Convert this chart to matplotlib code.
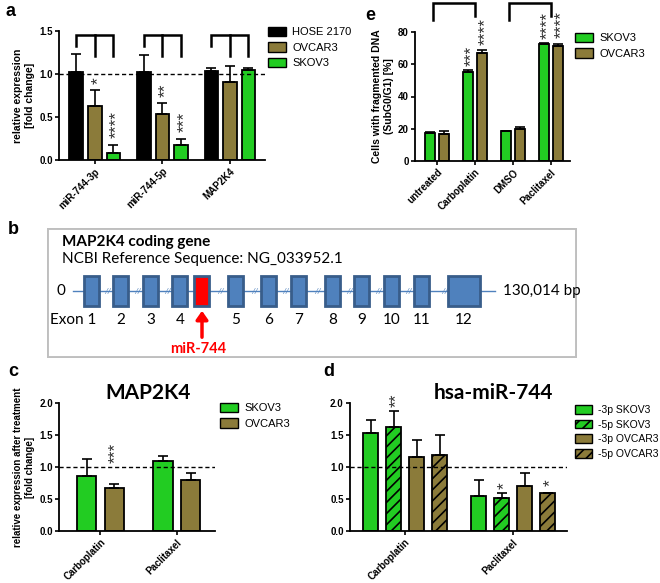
import matplotlib
matplotlib.use('Agg')
import matplotlib.pyplot as plt
from matplotlib.patches import Patch, Rectangle
import numpy as np

plt.rcParams['font.family'] = ['Liberation Sans', 'DejaVu Sans']
plt.rcParams['hatch.linewidth'] = 1.2
plt.rcParams['axes.linewidth'] = 1.3

W, H = 660, 583
GREEN = '#22cc22'
OLIVE = '#8b7b3a'
BLACK = '#000000'
HATCH = '///'

# ---------------- data ----------------
# panel a
a_categories = ['miR-744-3p', 'miR-744-5p', 'MAP2K4']
a_hose = [1.02, 1.02, 1.04]
a_hose_err = [0.21, 0.20, 0.03]
a_ovcar = [0.63, 0.53, 0.91]
a_ovcar_err = [0.18, 0.13, 0.18]
a_skov = [0.08, 0.17, 1.05]
a_skov_err = [0.09, 0.07, 0.02]
a_ovcar_stars = ['*', '**', '']
a_skov_stars = ['****', '***', '']

# panel e
e_categories = ['untreated', 'Carboplatin', 'DMSO', 'Paclitaxel']
e_skov = [17.3, 55.5, 18.3, 72.3]
e_skov_err = [0.6, 1.0, 0.3, 0.9]
e_ovcar = [16.8, 66.8, 19.6, 71.3]
e_ovcar_err = [1.8, 1.8, 1.3, 1.2]
e_skov_stars = ['', '***', '', '****']
e_ovcar_stars = ['', '****', '', '****']

# panel c
c_categories = ['Carboplatin', 'Paclitaxel']
c_skov = [0.86, 1.09]
c_skov_err = [0.26, 0.08]
c_ovcar = [0.67, 0.80]
c_ovcar_err = [0.06, 0.11]
c_ovcar_stars = ['***', '']

# panel d
d_categories = ['Carboplatin', 'Paclitaxel']
d_skov_3p = [1.53, 0.54]
d_skov_3p_err = [0.21, 0.26]
d_skov_5p = [1.63, 0.52]
d_skov_5p_err = [0.24, 0.07]
d_ovcar_3p = [1.16, 0.70]
d_ovcar_3p_err = [0.26, 0.20]
d_ovcar_5p = [1.18, 0.59]
d_ovcar_5p_err = [0.32, 0.01]
d_skov_5p_stars = ['**', '*']
d_ovcar_5p_stars = ['', '*']

# panel b (schematic gene)
exon_labels = ['Exon 1', '2', '3', '4', '5', '6', '7', '8', '9', '10', '11', '12']
exon_slots = [44, 74, 104, 133, 189, 222, 252, 286, 315, 345, 375, 417]
exon_widths = [15, 15, 15, 15, 15, 15, 15, 15, 15, 15, 15, 32]
mir_slot = 155
gene_length_label = '130,014 bp'

# ---------------- helpers ----------------
fig = plt.figure(figsize=(W / 100, H / 100), dpi=100)


def px_axes(x0, y0, x1, y1, **kw):
    return fig.add_axes([x0 / W, 1 - y1 / H, (x1 - x0) / W, (y1 - y0) / H], **kw)


def style(ax):
    ax.spines['top'].set_visible(False)
    ax.spines['right'].set_visible(False)
    ax.tick_params(axis='both', direction='out', length=3, width=1.2, labelsize=7, pad=1.5)
    for lab in ax.get_yticklabels():
        lab.set_fontweight('bold')


def bars(ax, x, vals, errs, color, width, hatch=None):
    ax.bar(x, vals, width=width, color=color, edgecolor='black', linewidth=1.3,
           hatch=hatch, zorder=2)
    ax.errorbar(x, vals, yerr=[np.zeros(len(vals)), errs], fmt='none', ecolor='black',
                elinewidth=1.2, capsize=3.5, capthick=1.2, zorder=3)


def star_text(ax, x, y, s, size=12.5):
    ax.annotate(s, xy=(x, y), xytext=(2.3, 0), textcoords='offset points', ha='center',
                va='bottom', fontsize=size, rotation=90, color='#2e2e2e',
                annotation_clip=False)


def stars(ax, x, tops, labels, pad, size=12.5):
    for xi, t, s in zip(x, tops, labels):
        if s:
            star_text(ax, xi, t + pad, s, size)


def xlabels(ax, ticks, labels):
    ax.set_xticks(ticks)
    ax.set_xticklabels(labels, rotation=45, ha='right', rotation_mode='anchor',
                       fontsize=7, fontweight='bold')


def legend(handles, x, y, fs=8):
    fig.legend(handles=handles, loc='upper left', bbox_to_anchor=(x / W, 1 - y / H),
               frameon=False, fontsize=fs, handlelength=1.6, handleheight=0.9,
               handletextpad=0.6, labelspacing=0.45, borderpad=0, borderaxespad=0)


# ---------------- panel a ----------------
ax = px_axes(59, 31, 265, 160)
xa = np.arange(len(a_categories))
off, bw = 0.275, 0.2
bars(ax, xa - off, a_hose, a_hose_err, BLACK, bw)
bars(ax, xa, a_ovcar, a_ovcar_err, OLIVE, bw)
bars(ax, xa + off, a_skov, a_skov_err, GREEN, bw)
ax.axhline(1.0, color='black', ls='--', lw=1, dashes=(3, 2), zorder=4)
stars(ax, xa, np.add(a_ovcar, a_ovcar_err), a_ovcar_stars, 0.07)
stars(ax, xa + off, np.add(a_skov, a_skov_err), a_skov_stars, 0.08)
for g in xa:
    ax.plot([g - off, g - off, g + off, g + off], [1.32, 1.45, 1.45, 1.21], color='black',
            lw=1.8, clip_on=False, solid_joinstyle='miter')
    ax.plot([g, g], [1.45, 1.21], color='black', lw=1.8, clip_on=False)
ax.set_ylim(0, 1.5)
ax.set_xlim(-0.53, 2.52)
ax.set_yticks([0, 0.5, 1.0, 1.5])
ax.set_ylabel('relative expression\n[fold change]', fontsize=7.5, fontweight='bold', labelpad=3)
xlabels(ax, xa, a_categories)
style(ax)
legend([Patch(facecolor=BLACK, edgecolor='black', label='HOSE 2170'),
        Patch(facecolor=OLIVE, edgecolor='black', label='OVCAR3'),
        Patch(facecolor=GREEN, edgecolor='black', label='SKOV3')], 268, 27)

# ---------------- panel e ----------------
ax = px_axes(415, 32, 570, 161)
xe = np.arange(len(e_categories))
off, bw = 0.185, 0.26
bars(ax, xe - off, e_skov, e_skov_err, GREEN, bw)
bars(ax, xe + off, e_ovcar, e_ovcar_err, OLIVE, bw)
stars(ax, xe - off, np.add(e_skov, e_skov_err), e_skov_stars, 2.5)
stars(ax, xe + off, np.add(e_ovcar, e_ovcar_err), e_ovcar_stars, 3.5)
for g0, g1 in [(0, 1), (2, 3)]:
    ax.plot([g0 - 0.1, g0 - 0.1, g1, g1], [87.5, 97.8, 97.8, 90], color='black', lw=1.8,
            clip_on=False, solid_joinstyle='miter')
ax.set_ylim(0, 80)
ax.set_xlim(-0.58, 3.5)
ax.set_yticks([0, 20, 40, 60, 80])
ax.set_ylabel('Cells with fragmented DNA\n(SubG0/G1) [%]', fontsize=7.5, fontweight='bold',
              labelpad=3)
xlabels(ax, xe, e_categories)
style(ax)
legend([Patch(facecolor=GREEN, edgecolor='black', label='SKOV3'),
        Patch(facecolor=OLIVE, edgecolor='black', label='OVCAR3')], 575, 33)

# ---------------- panel c ----------------
ax = px_axes(59, 403, 215, 531)
xc = np.arange(len(c_categories))
off, bw = 0.18, 0.25
bars(ax, xc - off, c_skov, c_skov_err, GREEN, bw)
bars(ax, xc + off, c_ovcar, c_ovcar_err, OLIVE, bw)
ax.axhline(1.0, color='black', ls='--', lw=1, dashes=(3, 2), zorder=4)
for xi, s in zip(xc + off, c_ovcar_stars):
    if s:
        star_text(ax, xi - 0.02, 1.06, s)
ax.set_ylim(0, 2.0)
ax.set_xlim(-0.54, 1.5)
ax.set_yticks([0, 0.5, 1.0, 1.5, 2.0])
ax.set_ylabel('relative expression after treatment\n[fold change]', fontsize=7,
              fontweight='bold', labelpad=3)
ax.set_title('MAP2K4', fontsize=15, fontweight='bold', family=['Lato', 'DejaVu Sans'], pad=2,
             x=0.57)
xlabels(ax, xc, c_categories)
style(ax)
legend([Patch(facecolor=GREEN, edgecolor='black', label='SKOV3'),
        Patch(facecolor=OLIVE, edgecolor='black', label='OVCAR3')], 220, 403)

# ---------------- panel d ----------------
ax = px_axes(350, 403, 567, 531)
xd = np.arange(len(d_categories))
step, bw = 0.213, 0.145
bars(ax, xd - 1.5 * step, d_skov_3p, d_skov_3p_err, GREEN, bw)
bars(ax, xd - 0.5 * step, d_skov_5p, d_skov_5p_err, GREEN, bw, hatch=HATCH)
bars(ax, xd + 0.5 * step, d_ovcar_3p, d_ovcar_3p_err, OLIVE, bw)
bars(ax, xd + 1.5 * step, d_ovcar_5p, d_ovcar_5p_err, OLIVE, bw, hatch=HATCH)
ax.axhline(1.0, color='black', ls='--', lw=1, dashes=(3, 2), zorder=4)
stars(ax, xd - 0.5 * step, np.add(d_skov_5p, d_skov_5p_err), d_skov_5p_stars, 0.07)
stars(ax, [xd[1] + 1.5 * step], [d_skov_5p[1] + d_skov_5p_err[1]], [d_ovcar_5p_stars[1]], 0.12)
ax.set_ylim(0, 2.0)
ax.set_xlim(-0.51, 1.5)
ax.set_yticks([0, 0.5, 1.0, 1.5, 2.0])
ax.set_title('hsa-miR-744', fontsize=15, fontweight='bold', family=['Lato', 'DejaVu Sans'],
             pad=2, x=0.66)
xlabels(ax, xd, d_categories)
style(ax)
legend([Patch(facecolor=GREEN, edgecolor='black', label='-3p SKOV3'),
        Patch(facecolor=GREEN, edgecolor='black', hatch=HATCH, label='-5p SKOV3'),
        Patch(facecolor=OLIVE, edgecolor='black', label='-3p OVCAR3'),
        Patch(facecolor=OLIVE, edgecolor='black', hatch=HATCH, label='-5p OVCAR3')],
       575, 405, fs=7.5)

# ---------------- panel b ----------------
bx = px_axes(47, 228, 577, 358)
bx.set_xlim(0, 530)
bx.set_ylim(130, 0)
bx.axis('off')
bx.add_patch(Rectangle((0, 0), 530, 130, fill=False, edgecolor='#bfbfbf', lw=2.8))
BF = ['Lato', 'DejaVu Sans']
bx.text(15, 14, 'MAP2K4 coding gene', fontsize=11, fontweight='bold', family=BF, va='center')
bx.text(15, 31, 'NCBI Reference Sequence: NG_033952.1', fontsize=11, family=BF, va='center')
yl = 63
bx.plot([26, 448], [yl, yl], color='#4f81bd', lw=1, zorder=1)
bx.text(14, yl, '0', fontsize=11, family=BF, va='center', ha='center')
bx.text(456, yl, gene_length_label, fontsize=11, family=BF, va='center', ha='left')
for xs, w in zip(exon_slots, exon_widths):
    bx.add_patch(Rectangle((xs - w / 2, yl - 15), w, 30, facecolor='#4f81bd',
                           edgecolor='#385d8a', lw=2, zorder=3))
bx.add_patch(Rectangle((mir_slot - 7.5, yl - 15), 15, 30, facecolor='#ff0000',
                       edgecolor='#385d8a', lw=2, zorder=3))
features = sorted(exon_slots + [mir_slot])
for p0, p1 in zip(features[:-1], features[1:]):
    if p1 == mir_slot:
        continue
    bx.text((p0 + p1) / 2 + 2, yl, '//', fontsize=6, color='#4f81bd', ha='center',
            va='center', family=BF, style='italic', zorder=2)
for i, (xs, lab) in enumerate(zip(exon_slots, exon_labels)):
    if i == 0:
        bx.text(xs + 5, 92, lab, fontsize=11, family=BF, ha='right', va='center')
    else:
        bx.text(xs, 92, lab, fontsize=11, family=BF, ha='center', va='center')
bx.annotate('', xy=(mir_slot, 80), xytext=(mir_slot, 112),
            arrowprops=dict(arrowstyle='-|>,head_width=0.35,head_length=0.5', color='#ff0000',
                            lw=2.5))
bx.text(mir_slot - 4, 121, 'miR-744', fontsize=10.5, fontweight='bold', color='#ff0000',
        family=BF, ha='center', va='center')

# ---------------- panel letters ----------------
for lab, x, y in [('a', 5, 12), ('e', 365, 15), ('b', 8, 230), ('c', 8, 372), ('d', 323, 372)]:
    fig.text(x / W, 1 - y / H, lab, fontsize=13, fontweight='bold', ha='left', va='center')

fig.savefig('out.png', dpi=100)
